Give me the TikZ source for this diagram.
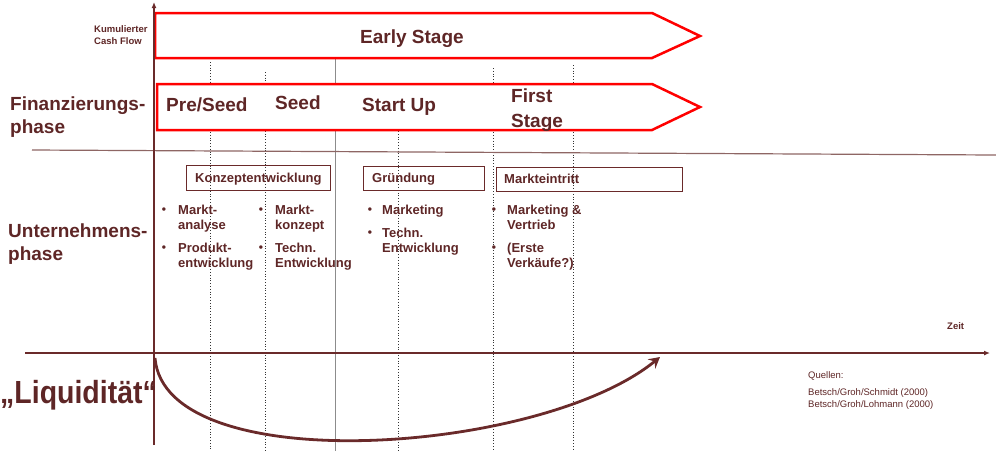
\documentclass[tikz,border=0pt]{standalone}
\usepackage{fontspec}
\setmainfont{Liberation Sans}
\newfontfamily\liqfont[FakeStretch=0.89]{Liberation Sans}
\usetikzlibrary{arrows.meta}
\definecolor{txt}{HTML}{5E2626}
\definecolor{axisc}{HTML}{6A2A2A}
\definecolor{sepc}{HTML}{8E6664}
\definecolor{boxc}{HTML}{6A2A2A}
\definecolor{stagered}{HTML}{FF0000}
\tikzset{
  lbl/.style={inner sep=0pt, anchor=base west, text=txt},
  big/.style={lbl, font=\bfseries\fontsize{19}{23}\selectfont},
  mid/.style={lbl, font=\bfseries\fontsize{13}{15}\selectfont},
  tiny/.style={lbl, font=\bfseries\fontsize{9.5}{11}\selectfont},
  src/.style={lbl, font=\fontsize{9.5}{12}\selectfont},
  bul/.style={inner sep=0pt, anchor=base, text=txt, font=\bfseries\fontsize{12}{14}\selectfont},
  stagearrow/.style={draw=stagered, line width=2.5pt, fill=white, line join=miter},
  phasebox/.style={draw=boxc, line width=1pt},
  guide/.style={draw=black!80, dotted, line width=0.8pt},
  solidguide/.style={draw=black!45, line width=0.9pt},
  axisline/.style={draw=axisc, line width=1.2pt, -{Latex[length=6pt,width=5pt]}},
  sepline/.style={draw=sepc, line width=1.2pt},
  liqarrow/.style={draw=axisc, line width=2.8pt, -{Stealth[length=11pt,width=12pt,inset=4pt]}},
}
\begin{document}
\begin{tikzpicture}[x=1pt,y=-1pt]
\useasboundingbox (0,0) rectangle (996,451);

% guide lines
\coordinate (g1t) at (210,62);  \coordinate (g1b) at (210,451);
\coordinate (g2t) at (265,72);  \coordinate (g2b) at (265,451);
\coordinate (g3t) at (335,58);  \coordinate (g3b) at (335,451);
\coordinate (g4t) at (398,131); \coordinate (g4b) at (398,451);
\coordinate (g5t) at (493,68);  \coordinate (g5b) at (493,451);
\coordinate (g6t) at (573,65);  \coordinate (g6b) at (573,451);
\draw[guide] (g1t) -- (g1b);
\draw[guide] (g2t) -- (g2b);
\draw[solidguide] (g3t) -- (g3b);
\draw[guide] (g4t) -- (g4b);
\draw[guide] (g5t) -- (g5b);
\draw[guide] (g6t) -- (g6b);

% stage arrows
\draw[stagearrow] (155,13) -- (652,13) -- (700,36) -- (652,58) -- (155,58) -- cycle;
\draw[stagearrow] (157,84) -- (652,84) -- (700,107) -- (652,130) -- (157,130) -- cycle;

% separator and axes
\coordinate (sepL) at (32,150); \coordinate (sepR) at (996,155);
\draw[sepline] (sepL) -- (sepR);
\coordinate (yaxB) at (154,445); \coordinate (yaxT) at (154,2);
\draw[axisline] (yaxB) -- (yaxT);
\coordinate (xaxL) at (25,353); \coordinate (xaxR) at (990,353);
\draw[axisline] (xaxL) -- (xaxR);

% liquidity curve
\coordinate (liqS) at (155,358); \coordinate (liqE) at (660,357);
\draw[liqarrow] (liqS) .. controls (165,480) and (540,455) .. (liqE);

% axis labels
\node[tiny] (kum1) at (94,32) {Kumulierter};
\node[tiny] (kum2) at (94,44) {Cash Flow};
\node[tiny] (zeit) at (947,329) {Zeit};

% stage texts
\node[big] (early) at (360,43) {Early Stage};
\node[big] (preseed) at (166,111) {Pre/Seed};
\node[big] (seed) at (275,109) {Seed};
\node[big] (startup) at (362,111) {Start Up};
\node[big] (first1) at (511,102) {First};
\node[big] (first2) at (511,127) {Stage};

% left labels
\node[big] (fin1) at (10,110) {Finanzierungs-};
\node[big] (fin2) at (10,133) {phase};
\node[big] (unt1) at (8,237) {Unternehmens-};
\node[big] (unt2) at (8,260) {phase};
\node[lbl, font=\liqfont\bfseries\fontsize{32}{36}\selectfont] (liq) at (0,403) {„Liquidität“};

% phase boxes
\draw[phasebox] (186,165) rectangle (330,190);
\node[mid] (konz) at (195,182) {Konzeptentwicklung};
\draw[phasebox] (363,166) rectangle (484,190);
\node[mid] (grund) at (372,182) {Gründung};
\draw[phasebox] (496,167) rectangle (682,191);
\node[mid] (markt) at (504,183) {Markteintritt};

% column 1
\node[bul] (b11) at (164,213) {•};
\node[mid] (c11a) at (178,214) {Markt-};
\node[mid] (c11b) at (178,229) {analyse};
\node[bul] (b12) at (164,251) {•};
\node[mid] (c12a) at (178,252) {Produkt-};
\node[mid] (c12b) at (178,267) {entwicklung};

% column 2
\node[bul] (b21) at (261,213) {•};
\node[mid] (c21a) at (275,214) {Markt-};
\node[mid] (c21b) at (275,229) {konzept};
\node[bul] (b22) at (261,251) {•};
\node[mid] (c22a) at (275,252) {Techn.};
\node[mid] (c22b) at (275,267) {Entwicklung};

% column 3
\node[bul] (b31) at (370,213) {•};
\node[mid] (c31a) at (382,214) {Marketing};
\node[bul] (b32) at (370,236) {•};
\node[mid] (c32a) at (382,237) {Techn.};
\node[mid] (c32b) at (382,252) {Entwicklung};

% column 4
\node[bul] (b41) at (494,213) {•};
\node[mid] (c41a) at (507,214) {Marketing \&};
\node[mid] (c41b) at (507,229) {Vertrieb};
\node[bul] (b42) at (494,251) {•};
\node[mid] (c42a) at (507,252) {(Erste};
\node[mid] (c42b) at (507,267) {Verkäufe?)};

% sources
\node[src] (q0) at (808,378) {Quellen:};
\node[src] (q1) at (808,395) {Betsch/Groh/Schmidt (2000)};
\node[src] (q2) at (808,407) {Betsch/Groh/Lohmann (2000)};
\end{tikzpicture}
\end{document}
